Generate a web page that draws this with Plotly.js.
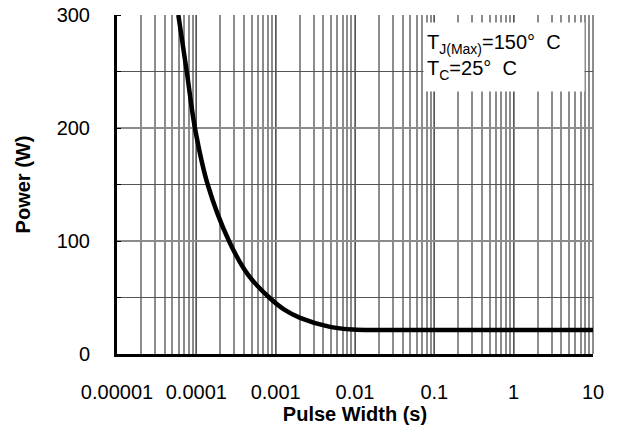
<!DOCTYPE html>
<html>
<head>
<meta charset="utf-8">
<script src="https://cdn.plot.ly/plotly-3.0.1.min.js"></script>
<style>html,body{margin:0;padding:0;background:#fff;}#chart{width:620px;height:432px;}</style>
</head>
<body>
<div id="chart"></div>
<script>
// Pulse width (s) and power (W)
const pulseWidth = [5.93e-5, 7.57e-5, 9.6e-5, 1.39e-4, 2.58e-4, 4.5e-4, 8.3e-4, 1.3e-3, 2.03e-3, 4.84e-3, 9.4e-3, 2e-2, 0.1, 1, 10];
const power      = [300,     250,     200,    150,     100,     70,     50,     39,     32,      24,      21.6,   21.2, 21.2, 21.2, 21.2];

const xTickVals = [1e-5, 1e-4, 1e-3, 1e-2, 1e-1, 1, 10];
const xTickText = ['0.00001', '0.0001', '0.001', '0.01', '0.1', '1', '10'];
const yTickVals = [0, 100, 200, 300];

const FONT = 'Liberation Sans, Arial, sans-serif';

const trace = {
  x: pulseWidth,
  y: power,
  type: 'scatter',
  mode: 'lines',
  line: {color: '#000', width: 4.5, shape: 'spline', smoothing: 1},
  hoverinfo: 'skip'
};

const layout = {
  width: 620, height: 432,
  margin: {l: 117, r: 27, t: 15, b: 78},
  paper_bgcolor: '#fff', plot_bgcolor: '#fff',
  showlegend: false,
  font: {family: FONT, size: 20, color: '#000'},
  xaxis: {
    type: 'log', range: [-5, 1],
    tickvals: xTickVals, ticktext: xTickText,
    ticks: '', ticklabelstandoff: 18,
    showgrid: true, gridcolor: '#555', gridwidth: 1,
    minor: {dtick: 'D1', showgrid: true, gridcolor: '#8c8c8c', gridwidth: 2, ticks: ''},
    showline: true, linecolor: '#000', linewidth: 3,
    zeroline: false,
    title: {text: '<b>Pulse Width (s)</b>', font: {size: 20, family: FONT}, standoff: 3}
  },
  yaxis: {
    range: [0, 300],
    tickvals: yTickVals,
    ticks: '', ticklabelstandoff: 20,
    showgrid: true, gridcolor: '#8c8c8c', gridwidth: 2,
    minor: {dtick: 50, showgrid: true, gridcolor: '#555', gridwidth: 1, ticks: 'inside', ticklen: 4, tickcolor: '#000', tickwidth: 1},
    showline: true, linecolor: '#000', linewidth: 3,
    zeroline: false,
    title: {text: '<b>Power (W)</b>', font: {size: 20, family: FONT}, standoff: 21}
  },
  shapes: [
    {type: 'line', xref: 'paper', yref: 'paper', x0: 1, x1: 1, y0: 0, y1: 1, line: {color: '#8c8c8c', width: 2}, layer: 'below'}
  ],
  annotations: [
    {
      xref: 'paper', yref: 'paper', x: 0.643, y: 0.979,
      xanchor: 'left', yanchor: 'top',
      text: 'T<sub>J(Max)</sub>=150°&nbsp;&nbsp;C<br>T<sub>C</sub>=25°&nbsp;&nbsp;C',
      showarrow: false, align: 'left', valign: 'middle',
      bgcolor: '#fff', borderpad: 3, width: 154, height: 62,
      font: {size: 20, family: FONT, color: '#000'}
    }
  ]
};

Plotly.newPlot('chart', [trace], layout, {displayModeBar: false, staticPlot: true});
</script>
</body>
</html>
